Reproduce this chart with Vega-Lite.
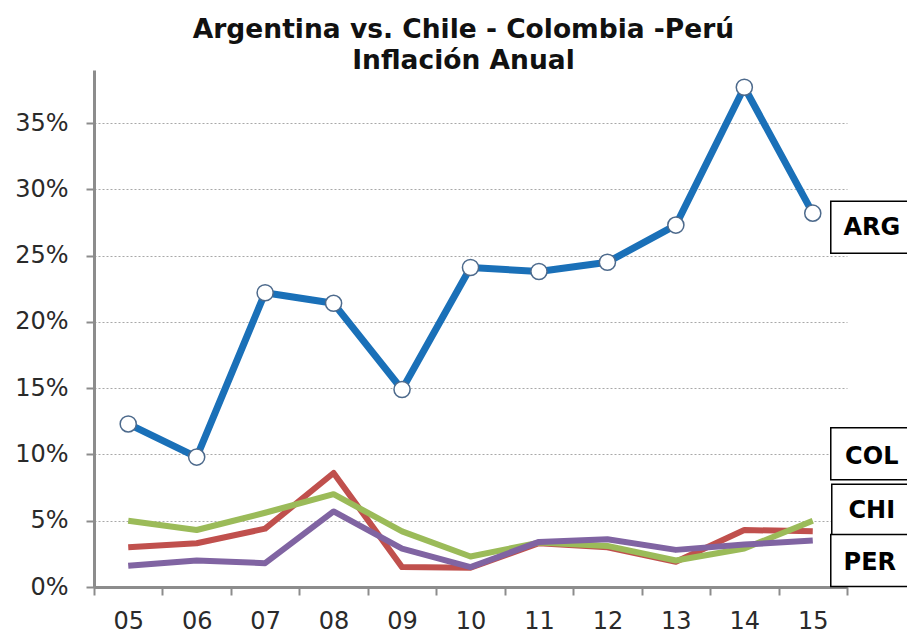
{
  "$schema": "https://vega.github.io/schema/vega-lite/v6.json",
  "width": 753,
  "height": 517,
  "autosize": {"type": "none"},
  "padding": {"left": 94, "top": 70, "right": 60, "bottom": 48},
  "background": "white",
  "config": {"view": {"stroke": null}, "font": "DejaVu Sans"},
  "title": {
    "text": ["Argentina vs. Chile - Colombia -Perú", "Inflación Anual"],
    "font": "DejaVu Sans",
    "fontSize": 26.5,
    "fontWeight": "bold",
    "color": "#111111",
    "lineHeight": 31,
    "anchor": "middle",
    "offset": -4,
    "dx": -7
  },
  "data": {
    "values": [
      {"year": "05", "country": "ARG", "value": 0.123},
      {"year": "06", "country": "ARG", "value": 0.098},
      {"year": "07", "country": "ARG", "value": 0.222},
      {"year": "08", "country": "ARG", "value": 0.214},
      {"year": "09", "country": "ARG", "value": 0.149},
      {"year": "10", "country": "ARG", "value": 0.241},
      {"year": "11", "country": "ARG", "value": 0.238},
      {"year": "12", "country": "ARG", "value": 0.245},
      {"year": "13", "country": "ARG", "value": 0.273},
      {"year": "14", "country": "ARG", "value": 0.377},
      {"year": "15", "country": "ARG", "value": 0.282},
      {"year": "05", "country": "CHI", "value": 0.030},
      {"year": "06", "country": "CHI", "value": 0.033},
      {"year": "07", "country": "CHI", "value": 0.044},
      {"year": "08", "country": "CHI", "value": 0.086},
      {"year": "09", "country": "CHI", "value": 0.015},
      {"year": "10", "country": "CHI", "value": 0.0145},
      {"year": "11", "country": "CHI", "value": 0.033},
      {"year": "12", "country": "CHI", "value": 0.030},
      {"year": "13", "country": "CHI", "value": 0.019},
      {"year": "14", "country": "CHI", "value": 0.043},
      {"year": "15", "country": "CHI", "value": 0.042},
      {"year": "05", "country": "COL", "value": 0.050},
      {"year": "06", "country": "COL", "value": 0.043},
      {"year": "07", "country": "COL", "value": 0.056},
      {"year": "08", "country": "COL", "value": 0.070},
      {"year": "09", "country": "COL", "value": 0.042},
      {"year": "10", "country": "COL", "value": 0.023},
      {"year": "11", "country": "COL", "value": 0.0335},
      {"year": "12", "country": "COL", "value": 0.031},
      {"year": "13", "country": "COL", "value": 0.020},
      {"year": "14", "country": "COL", "value": 0.029},
      {"year": "15", "country": "COL", "value": 0.050},
      {"year": "05", "country": "PER", "value": 0.016},
      {"year": "06", "country": "PER", "value": 0.020},
      {"year": "07", "country": "PER", "value": 0.018},
      {"year": "08", "country": "PER", "value": 0.057},
      {"year": "09", "country": "PER", "value": 0.029},
      {"year": "10", "country": "PER", "value": 0.015},
      {"year": "11", "country": "PER", "value": 0.034},
      {"year": "12", "country": "PER", "value": 0.036},
      {"year": "13", "country": "PER", "value": 0.028},
      {"year": "14", "country": "PER", "value": 0.032},
      {"year": "15", "country": "PER", "value": 0.035}
    ]
  },
  "encoding": {
    "x": {
      "field": "year",
      "type": "ordinal",
      "scale": {"type": "band", "paddingInner": 0, "paddingOuter": 0},
      "axis": {
        "title": null,
        "labelAngle": 0,
        "tickBand": "extent",
        "domainColor": "#8c8c8c",
        "domainWidth": 3,
        "tickColor": "#8c8c8c",
        "tickWidth": 2,
        "tickSize": 8,
        "labelFont": "DejaVu Sans",
        "labelFontSize": 24,
        "labelColor": "#2a2a2a",
        "labelPadding": 14,
        "grid": false
      }
    },
    "y": {
      "field": "value",
      "type": "quantitative",
      "scale": {"domain": [0, 0.39], "nice": false, "zero": true},
      "axis": {
        "title": null,
        "values": [0, 0.05, 0.1, 0.15, 0.2, 0.25, 0.3, 0.35],
        "format": ".0%",
        "domainColor": "#8c8c8c",
        "domainWidth": 3,
        "tickColor": "#8c8c8c",
        "tickWidth": 2,
        "tickSize": 8,
        "labelFont": "DejaVu Sans",
        "labelFontSize": 24,
        "labelColor": "#2a2a2a",
        "labelPadding": 18,
        "grid": true,
        "gridColor": "#a8a8a8",
        "gridDash": [2, 2],
        "gridWidth": 1
      }
    }
  },
  "layer": [
    {
      "transform": [{"filter": "datum.country == 'CHI'"}],
      "mark": {"type": "line", "color": "#C0504D", "strokeWidth": 6, "strokeJoin": "round"}
    },
    {
      "transform": [{"filter": "datum.country == 'COL'"}],
      "mark": {"type": "line", "color": "#9BBB59", "strokeWidth": 6, "strokeJoin": "round"}
    },
    {
      "transform": [{"filter": "datum.country == 'PER'"}],
      "mark": {"type": "line", "color": "#8064A2", "strokeWidth": 6, "strokeJoin": "round"}
    },
    {
      "transform": [{"filter": "datum.country == 'ARG'"}],
      "mark": {"type": "line", "color": "#1A70B8", "strokeWidth": 7, "strokeJoin": "round"}
    },
    {
      "transform": [{"filter": "datum.country == 'ARG'"}],
      "mark": {"type": "point", "shape": "circle", "size": 260, "filled": true, "fill": "white", "stroke": "#4d6a8c", "strokeWidth": 1.5, "opacity": 1}
    },
    {
      "transform": [{"filter": "datum.country == 'ARG' && datum.year == '15'"}],
      "mark": {"type": "point", "shape": "M-1,-0.619L1.6,-0.619L1.6,0.619L-1,0.619Z", "size": 7056, "filled": true, "fill": "white", "stroke": "black", "strokeWidth": 1.5, "opacity": 1, "xOffset": 60, "yOffset": 14}
    },
    {
      "transform": [{"filter": "datum.country == 'ARG' && datum.year == '15'"}],
      "mark": {"type": "text", "text": "ARG", "font": "DejaVu Sans", "fontSize": 24, "fontWeight": "bold", "color": "black", "align": "center", "baseline": "middle", "xOffset": 59, "yOffset": 15}
    },
    {
      "transform": [{"filter": "datum.country == 'COL' && datum.year == '15'"}],
      "mark": {"type": "point", "shape": "M-1,-0.619L1.6,-0.619L1.6,0.619L-1,0.619Z", "size": 7056, "filled": true, "fill": "white", "stroke": "black", "strokeWidth": 1.5, "opacity": 1, "xOffset": 60, "yOffset": -67}
    },
    {
      "transform": [{"filter": "datum.country == 'COL' && datum.year == '15'"}],
      "mark": {"type": "text", "text": "COL", "font": "DejaVu Sans", "fontSize": 24, "fontWeight": "bold", "color": "black", "align": "center", "baseline": "middle", "xOffset": 59, "yOffset": -64}
    },
    {
      "transform": [{"filter": "datum.country == 'CHI' && datum.year == '15'"}],
      "mark": {"type": "point", "shape": "M-1,-0.619L1.6,-0.619L1.6,0.619L-1,0.619Z", "size": 7056, "filled": true, "fill": "white", "stroke": "black", "strokeWidth": 1.5, "opacity": 1, "xOffset": 61, "yOffset": -21}
    },
    {
      "transform": [{"filter": "datum.country == 'CHI' && datum.year == '15'"}],
      "mark": {"type": "text", "text": "CHI", "font": "DejaVu Sans", "fontSize": 24, "fontWeight": "bold", "color": "black", "align": "center", "baseline": "middle", "xOffset": 59, "yOffset": -20}
    },
    {
      "transform": [{"filter": "datum.country == 'PER' && datum.year == '15'"}],
      "mark": {"type": "point", "shape": "M-1,-0.619L1.6,-0.619L1.6,0.619L-1,0.619Z", "size": 7056, "filled": true, "fill": "white", "stroke": "black", "strokeWidth": 1.5, "opacity": 1, "xOffset": 60, "yOffset": 20}
    },
    {
      "transform": [{"filter": "datum.country == 'PER' && datum.year == '15'"}],
      "mark": {"type": "text", "text": "PER", "font": "DejaVu Sans", "fontSize": 24, "fontWeight": "bold", "color": "black", "align": "center", "baseline": "middle", "xOffset": 57, "yOffset": 22}
    }
  ]
}
